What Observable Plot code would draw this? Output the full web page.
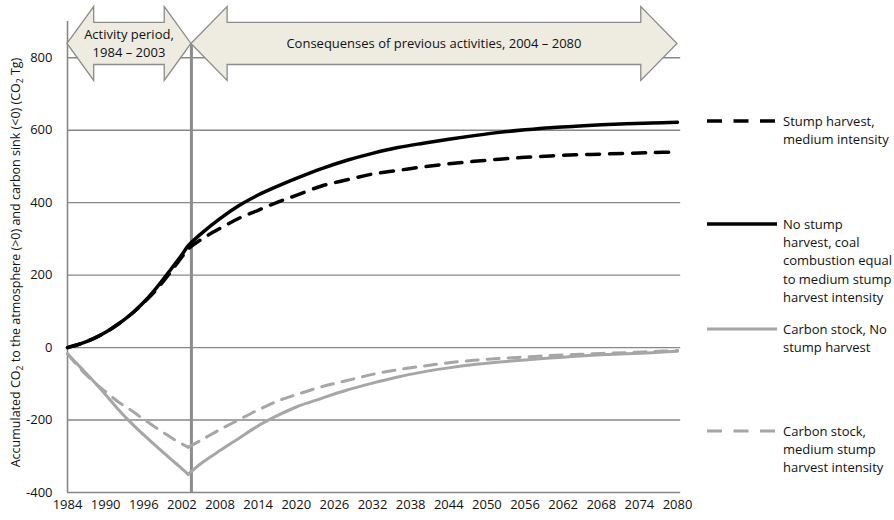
<!DOCTYPE html>
<html>
<head>
<meta charset="utf-8">
<script src="https://cdn.jsdelivr.net/npm/d3@7"></script>
<script src="https://cdn.jsdelivr.net/npm/@observablehq/plot@0.6"></script>
<style>
  body { margin: 0; background: #fff; }
  #chart { width: 894px; height: 520px; }
</style>
</head>
<body>
<div id="chart"></div>
<script>
// Years sampled along the simulation (1984–2080)
const years = [1984, 1986, 1988, 1990, 1992, 1994, 1996, 1998, 2000, 2002, 2003,
  2005, 2008, 2011, 2014, 2017, 2020, 2024, 2028, 2032, 2036, 2040, 2044, 2048,
  2052, 2056, 2060, 2064, 2068, 2072, 2076, 2080];

// Accumulated CO2 to the atmosphere (CO2 Tg)
const stumpHarvest = [0, 10, 24, 42, 65, 92, 124, 160, 203, 250, 272,
  298, 329, 357, 379, 401, 420, 446, 463, 479, 489, 499, 507, 514,
  520, 525, 529, 532, 534, 536, 538, 540];
const noStumpHarvest = [0, 10, 24, 42, 65, 92, 125, 165, 210, 256, 281,
  314, 356, 392, 421, 445, 467, 494, 517, 536, 552, 564, 575, 585,
  594, 601, 607, 611, 615, 618, 620, 622];

// Carbon stock / sink (CO2 Tg, negative = sink)
const stockNoHarvest = [-17, -54, -91, -130, -171, -208, -241, -273, -304, -334, -350,
  -320, -284, -250, -216, -188, -164, -140, -117, -98, -81, -67, -56, -47,
  -40, -34, -29, -24, -20, -17, -14, -10];
const stockHarvest = [-17, -58, -93, -122, -150, -173, -198, -222, -245, -266, -275,
  -256, -226, -199, -172, -148, -130, -108, -91, -74, -61, -51, -42, -35,
  -30, -26, -22, -19, -16, -14, -11, -8];

const seriesLabels = [
  ["Stump harvest,", "medium intensity"],
  ["No stump", "harvest, coal", "combustion equal", "to medium stump", "harvest intensity"],
  ["Carbon stock, No", "stump harvest"],
  ["Carbon stock,", "medium stump", "harvest intensity"]
];

const xTickLabels = [1984, 1990, 1996, 2002, 2008, 2014, 2020, 2026, 2032, 2038,
  2044, 2050, 2056, 2062, 2068, 2074, 2080];
const yTickLabels = [-400, -200, 0, 200, 400, 600, 800];

const periods = [
  {start: 1984, end: 2003.5, lines: ["Activity period,", "1984 \u2013 2003"]},
  {start: 2003.5, end: 2080, lines: ["Consequenses of previous activities, 2004 \u2013 2080"]}
];

const FONT = "'Open Sans', 'Liberation Sans', sans-serif";
const INK = "#111";
const GRID = "#878787";
const GREY = "#a6a6a6";

// Rows; the stock series are split at the end of the activity period so the
// turning point stays sharp while each branch is smoothed.
const rowsFor = (values) => years.map((year, i) => ({
  year, value: values[i], part: year <= 2003 ? "a" : "b"
}));
const splitRows = (values) => {
  const rows = rowsFor(values);
  const turn = rows.find(d => d.year === 2003);
  return [...rows, {...turn, part: "b"}].sort((a, b) => a.year - b.year);
};

const plot = Plot.plot({
  width: 894,
  height: 520,
  marginLeft: 67,
  marginRight: 217,
  marginTop: 21,
  marginBottom: 28,
  style: {fontFamily: FONT, fontSize: "13px", color: INK, background: "#fff"},
  x: {domain: [1984, 2080], ticks: xTickLabels, tickFormat: d => String(d),
      tickSize: 0, tickPadding: 7, label: null},
  y: {domain: [-400, 900], ticks: yTickLabels, tickFormat: d => String(d),
      tickSize: 0, tickPadding: 15, label: null},
  marks: [
    Plot.ruleY(yTickLabels, {x1: 1984, x2: 2080.5, stroke: GRID, strokeWidth: 1.4}),
    Plot.ruleX([1984], {y1: -400, y2: 900, stroke: GRID, strokeWidth: 1.6}),
    Plot.ruleX([periods[0].end], {y1: -400, y2: 838, stroke: "#8c8c8c", strokeWidth: 3}),
    Plot.line(splitRows(stockNoHarvest), {x: "year", y: "value", z: "part",
      stroke: GREY, strokeWidth: 3, curve: "catmull-rom"}),
    Plot.line(splitRows(stockHarvest), {x: "year", y: "value", z: "part",
      stroke: GREY, strokeWidth: 3, strokeDasharray: "12 9", curve: "catmull-rom"}),
    Plot.line(rowsFor(noStumpHarvest), {x: "year", y: "value",
      stroke: "#000", strokeWidth: 3.5, curve: "catmull-rom"}),
    Plot.line(rowsFor(stumpHarvest), {x: "year", y: "value",
      stroke: "#000", strokeWidth: 3.5, strokeDasharray: "13 10", curve: "catmull-rom"})
  ]
});

document.getElementById("chart").appendChild(plot);

const sx = plot.scale("x"), sy = plot.scale("y");
const X = d3.scaleLinear(sx.domain, sx.range);
const Y = d3.scaleLinear(sy.domain, sy.range);
const svg = d3.select(plot);

// Double-headed period arrows, in year / value units
const yc = 838, bodyHalf = 58, headHalf = 102;
function arrowPath(x0, x1, head) {
  const pts = [
    [x0, yc], [x0 + head, yc + headHalf], [x0 + head, yc + bodyHalf],
    [x1 - head, yc + bodyHalf], [x1 - head, yc + headHalf], [x1, yc],
    [x1 - head, yc - headHalf], [x1 - head, yc - bodyHalf],
    [x0 + head, yc - bodyHalf], [x0 + head, yc - headHalf]
  ];
  return "M" + pts.map(([a, b]) => `${X(a)},${Y(b)}`).join("L") + "Z";
}
const heads = [4.2, 5.7];
const arrows = svg.append("g");
periods.forEach((p, i) => {
  arrows.append("path")
    .attr("d", arrowPath(p.start, p.end, heads[i]))
    .attr("fill", "#eeece1")
    .attr("stroke", "#8c8c8c")
    .attr("stroke-width", 1.3)
    .attr("stroke-linejoin", "miter");
  const cx = (X(p.start) + X(p.end)) / 2;
  const t = arrows.append("text")
    .attr("x", cx)
    .attr("y", Y(yc))
    .attr("text-anchor", "middle")
    .attr("font-family", FONT)
    .attr("font-size", 13)
    .attr("fill", INK);
  p.lines.forEach((line, j) => {
    t.append("tspan")
      .attr("x", cx)
      .attr("dy", j === 0 ? `${0.35 - (p.lines.length - 1) * 0.68}em` : "1.36em")
      .text(line);
  });
});

// Y axis title with subscripts
const title = svg.append("text")
  .attr("transform", `translate(16,${(Y(-400) + Y(900)) / 2 + 6}) rotate(-90)`)
  .attr("text-anchor", "middle")
  .attr("dy", "0.35em")
  .attr("font-family", FONT)
  .attr("font-size", 12.5)
  .attr("fill", INK);
const titleParts = [
  ["Accumulated CO", false], ["2", true],
  [" to the atmosphere (>0) and carbon sink (<0) (CO", false], ["2", true], [" Tg)", false]
];
titleParts.forEach(([s, sub], k) => {
  const ts = title.append("tspan").text(s);
  if (sub) ts.attr("font-size", 8.5).attr("dy", 3);
  else if (k > 0) ts.attr("dy", -3);
});

// Legend
const legendStyles = [
  {stroke: "#000", width: 3.5, dash: "15 11.5"},
  {stroke: "#000", width: 3.5, dash: null},
  {stroke: GREY, width: 3, dash: null},
  {stroke: GREY, width: 3, dash: "15 11.5"}
];
const legendRows = [121, 224, 329, 431];
const legend = svg.append("g")
  .attr("font-family", FONT)
  .attr("font-size", 13)
  .attr("text-anchor", "start")
  .attr("fill", INK);
seriesLabels.forEach((lines, i) => {
  const ly = legendRows[i];
  const st = legendStyles[i];
  legend.append("line")
    .attr("x1", 707).attr("x2", 777).attr("y1", ly).attr("y2", ly)
    .attr("stroke", st.stroke).attr("stroke-width", st.width)
    .attr("stroke-dasharray", st.dash);
  const t = legend.append("text").attr("x", 783).attr("y", ly).attr("text-anchor", "start");
  lines.forEach((line, j) => {
    t.append("tspan").attr("x", 783).attr("dy", j === 0 ? "0.35em" : "1.42em").text(line);
  });
});
</script>
</body>
</html>
